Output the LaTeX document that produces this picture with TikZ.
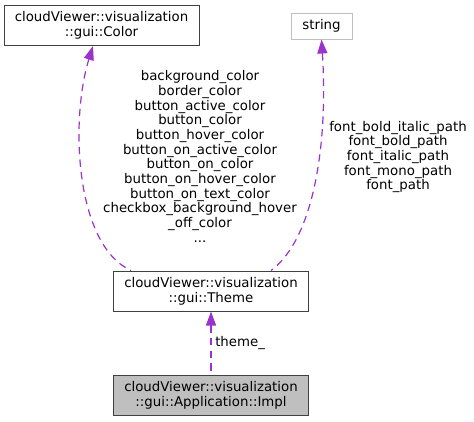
\documentclass[tikz,border=0pt]{standalone}
\usepackage{fontspec}
\setmainfont{DejaVu Sans}
\usetikzlibrary{arrows.meta}
\definecolor{edgecol}{HTML}{9A32CD}
\definecolor{boxline}{HTML}{404040}
\definecolor{greybox}{HTML}{BFBFBF}
\tikzset{
  classbox/.style={draw=boxline, line width=0.75pt, fill=white, align=center,
    inner sep=0pt, minimum width=146.25pt, minimum height=30pt,
    font=\fontsize{10pt}{11pt}\selectfont},
  edge/.style={draw=edgecol, line width=0.9pt, dash pattern=on 5.5pt off 4pt,
    {Triangle[length=10.5pt,width=7.5pt]}-},
  member/.style={align=center, inner sep=0pt, font=\fontsize{10pt}{11pt}\selectfont}
}
\begin{document}
\begin{tikzpicture}[x=0.75pt, y=-0.75pt]
  \useasboundingbox (0,0) rectangle (474,421);
  \node[classbox] (color) at (101.5,25.5) {cloudViewer::visualization\\::gui::Color};
  \node[classbox, draw=greybox, minimum width=45.75pt, minimum height=19.5pt] (string) at (321.5,26) {string};
  \node[classbox] (theme) at (211,291) {cloudViewer::visualization\\::gui::Theme};
  \node[classbox, fill=greybox] (impl) at (211,395) {cloudViewer::visualization\\::gui::Application::Impl};
  % edge labels
  \node[member] (colorvars) at (200,156.5) {background\_color\\border\_color\\button\_active\_color\\button\_color\\button\_hover\_color\\button\_on\_active\_color\\button\_on\_color\\button\_on\_hover\_color\\button\_on\_text\_color\\checkbox\_background\_hover\\\_off\_color\\...};
  \node[member] (fontvars) at (398,157) {font\_bold\_italic\_path\\font\_bold\_path\\font\_italic\_path\\font\_mono\_path\\font\_path};
  \node[member, anchor=west] (themevar) at (215,343) {theme\_};
  % edges
  \begin{scope}
    \draw[edge] ([xshift=-6.375pt]color.south) .. controls (70,120) and (75,245) .. ([xshift=13.5pt]theme.north west);
    \draw[edge] (string.south) .. controls (328,140) and (315,238) .. ([xshift=-28.5pt]theme.north east);
    \draw[edge] (theme.south) -- (impl.north);
  \end{scope}
\end{tikzpicture}
\end{document}
